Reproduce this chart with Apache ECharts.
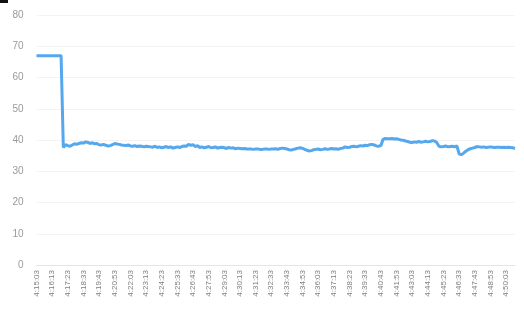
<!DOCTYPE html>
<html>
<head>
<meta charset="utf-8">
<script src="https://cdn.jsdelivr.net/npm/echarts@6/dist/echarts.min.js"></script>
<style>
  html, body { margin: 0; padding: 0; background: #fff; }
  #chart { width: 524px; height: 335px; }
</style>
</head>
<body>
<div id="chart"></div>
<script>
// samples every 10 s starting at 4:15:03
const startSec = 4 * 3600 + 15 * 60 + 3;
const stepSec = 10;

const values = [
  67, 67, 67, 67, 67, 67, 67, 67, 67, 67, 67, 67,
  37.6, 38.5, 38.2,
  38.0, 38.4, 38.8, 38.6, 38.9, 39.1, 39.0, 39.4,
  39.2, 38.9, 39.1, 38.8, 38.9, 38.5, 38.4, 38.6,
  38.3, 38.1, 38.2, 38.5, 38.9, 38.7,
  38.6, 38.4, 38.3, 38.2, 38.4, 38.1, 38.0, 38.2, 37.9, 38.1, 38.0, 37.8, 38.0, 37.9,
  37.8, 37.7, 38.0, 37.6, 37.8, 37.5, 37.7, 37.9, 37.6, 37.8, 37.4, 37.6,
  37.8, 37.6, 37.9, 38.1, 38.0,
  38.6, 38.3, 38.5, 37.9, 38.2,
  37.6, 37.8, 37.5, 37.7, 37.9, 37.5, 37.6, 37.8, 37.4, 37.6, 37.7, 37.5, 37.3, 37.6, 37.4, 37.5, 37.2, 37.4, 37.3, 37.2, 37.3, 37.1,
  37.1, 37.1, 37.0, 37.1, 37.1, 37.0, 37.0, 37.1, 37.1, 37.0, 37.1, 37.1, 37.2, 37.0, 37.3, 37.4,
  37.3, 37.1, 36.9, 36.8, 37.0, 37.2, 37.4, 37.5, 37.3, 37.0, 36.7, 36.5, 36.6, 36.9, 37.0,
  37.1, 36.9, 37.0, 37.2, 37.0, 37.1, 37.3, 37.1, 37.2, 37.0, 37.3, 37.4,
  37.8, 37.6, 37.7, 37.9, 38.0, 37.8, 38.0, 38.2, 38.1, 38.3, 38.2, 38.5, 38.6,
  38.4, 38.1, 38.0, 38.2,
  40.2, 40.5, 40.4, 40.4, 40.5, 40.3, 40.4,
  40.2, 40.0, 39.9, 39.7, 39.5, 39.3, 39.2,
  39.4, 39.3, 39.5, 39.3, 39.4, 39.6, 39.4, 39.5, 39.8,
  39.7, 39.2,
  38.0, 37.8, 37.9, 38.1, 37.8, 37.9, 38.0, 37.8, 38.1,
  35.6, 35.3, 35.8, 36.4, 36.9,
  37.2, 37.4, 37.6, 37.9, 37.8,
  37.7, 37.8, 37.6, 37.7, 37.8, 37.7, 37.6, 37.7, 37.7, 37.6, 37.7, 37.6, 37.7, 37.6, 37.5, 37.3
];

const yTicks = { min: 0, max: 80, interval: 10 };

// time labels h:mm:ss for every sample
const pad = (n) => (n < 10 ? "0" + n : "" + n);
const categories = values.map((_, i) => {
  const t = startSec + i * stepSec;
  return Math.floor(t / 3600) + ":" + pad(Math.floor((t % 3600) / 60)) + ":" + pad(t % 60);
});

const chart = echarts.init(document.getElementById("chart"));
chart.setOption({
  animation: false,
  grid: { left: 36.5, right: 9, top: 15, bottom: 70 },
  graphic: [
    { type: "rect", left: 0, top: 0, shape: { width: 8, height: 3 }, style: { fill: "#111" } }
  ],
  xAxis: {
    type: "category",
    data: categories,
    boundaryGap: false,
    axisLine: { lineStyle: { color: "#e6e6e6" } },
    axisTick: { show: false },
    axisLabel: {
      interval: 6,
      rotate: 90,
      margin: 5,
      color: "#7f7f7f",
      fontSize: 8,
      fontFamily: "Liberation Sans"
    }
  },
  yAxis: {
    type: "value",
    min: yTicks.min,
    max: yTicks.max,
    interval: yTicks.interval,
    axisLine: { show: false },
    axisTick: { show: false },
    splitLine: { lineStyle: { color: "#f3f3f3" } },
    axisLabel: {
      margin: 13,
      color: "#9a9a9a",
      fontSize: 10,
      fontFamily: "Liberation Sans"
    }
  },
  series: [
    {
      type: "line",
      data: values,
      symbol: "none",
      lineStyle: { color: "#55a8ee", width: 3 }
    }
  ]
});
</script>
</body>
</html>
